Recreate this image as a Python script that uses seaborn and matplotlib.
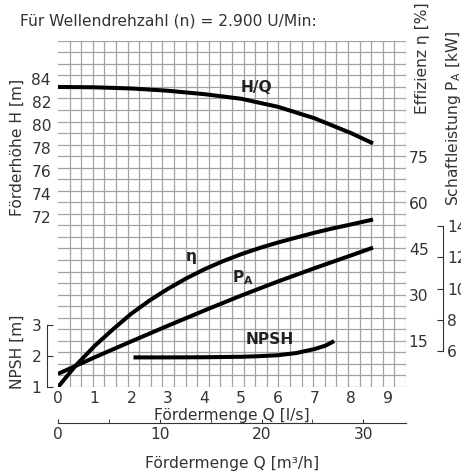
import numpy as np
import matplotlib
matplotlib.use("Agg")
import matplotlib.pyplot as plt
import seaborn as sns

# Kennlinien (Q in l/s)
q_hq = [0.0, 1.0, 2.0, 3.0, 4.0, 5.0, 6.0, 7.0, 7.5, 8.0, 8.6]
h_hq = [83.33, 83.3, 83.2, 83.0, 82.7, 82.3, 81.6, 80.6, 79.95, 79.3, 78.4]

q_eta = [0.0, 0.5, 1.0, 1.5, 2.0, 2.5, 3.0, 3.5, 4.0, 4.5, 5.0, 5.5, 6.0, 6.5, 7.0, 7.5, 8.0, 8.6]
eta = [0.0, 7.2, 13.4, 18.8, 23.9, 28.2, 32.0, 35.4, 38.4, 41.0, 43.3, 45.3, 47.1, 48.7, 50.3, 51.7, 53.0, 54.6]

q_pa = [0.0, 1.0, 2.0, 3.0, 4.0, 5.0, 6.0, 7.0, 8.0, 8.6]
pa = [4.54, 5.6, 6.62, 7.62, 8.6, 9.55, 10.45, 11.3, 12.12, 12.62]

q_npsh = [2.06, 3.0, 4.0, 5.0, 5.5, 6.0, 6.5, 7.0, 7.3, 7.54]
npsh = [1.95, 1.95, 1.955, 1.97, 1.99, 2.02, 2.09, 2.22, 2.33, 2.48]

# Achsenbeschriftungen
ticks_q = [0, 1, 2, 3, 4, 5, 6, 7, 8, 9]
ticks_h = [72, 74, 76, 78, 80, 82, 84]
ticks_eta = [15, 30, 45, 60, 75]
ticks_pa = [6, 8, 10, 12, 14]
ticks_npsh = [1, 2, 3]
ticks_m3h = [0, 10, 20, 30]

sns.set_style("white")
plt.rcParams["font.family"] = ["DejaVu Sans"]
fs = 11.2
txt = "#333333"

fig = plt.figure(figsize=(4.61, 4.73), dpi=100)
ax = fig.add_axes([58 / 461, 1 - 387 / 473, 348 / 461, 346.3 / 473])

# Skalen (Gitter 30 x 30 Kästchen)
Q_MAX = 9.5
H_LO, H_HI = 57.13, 87.37
ax.set_xlim(0, Q_MAX)
ax.set_ylim(H_LO, H_HI)
ax.set_xticks(np.linspace(0, Q_MAX, 31), minor=True)
ax.set_yticks(np.linspace(H_LO, H_HI, 31), minor=True)
ax.grid(which="minor", color="#a3a3a3", lw=0.9)
ax.grid(which="major", visible=False)
ax.set_xticks(ticks_q)
ax.set_yticks(ticks_h)
ax.tick_params(which="both", length=0, labelsize=fs, colors=txt)
ax.tick_params(axis="x", pad=3)
ax.tick_params(axis="y", pad=5)
for s in ax.spines.values():
    s.set_visible(False)

ax_eta = ax.twinx()
ax_eta.set_ylim(0, 112.9)
ax_pa = ax.twinx()
ax_pa.set_ylim(3.70, 25.86)
ax_np = ax.twinx()
ax_np.set_ylim(0.99, 12.22)
for a in (ax_eta, ax_pa, ax_np):
    for s in a.spines.values():
        s.set_visible(False)
    a.grid(False)

lw = 2.9
kw = dict(color="black", lw=lw, solid_capstyle="butt", solid_joinstyle="round")
sns.lineplot(x=q_hq, y=h_hq, ax=ax, **kw)
sns.lineplot(x=q_eta, y=eta, ax=ax_eta, **kw)
sns.lineplot(x=q_pa, y=pa, ax=ax_pa, **kw)
sns.lineplot(x=q_npsh, y=npsh, ax=ax_np, **kw)

# Effizienz-Achse rechts
ax_eta.set_yticks(ticks_eta)
ax_eta.tick_params(length=0, pad=2, labelsize=fs, colors=txt)

# Leistungs-Achse
ax_pa.spines["right"].set_visible(True)
ax_pa.spines["right"].set_position(("axes", (443 - 58) / 348))
ax_pa.spines["right"].set_bounds(6, 14)
ax_pa.spines["right"].set_color(txt)
ax_pa.set_yticks(ticks_pa)
ax_pa.tick_params(direction="in", length=4, pad=3, labelsize=fs, colors=txt)

# NPSH-Achse links
ax_np.yaxis.tick_left()
ax_np.spines["left"].set_visible(True)
ax_np.spines["left"].set_position(("axes", (47 - 58) / 348))
ax_np.spines["left"].set_bounds(1, 3)
ax_np.spines["left"].set_color(txt)
ax_np.set_yticks(ticks_npsh)
ax_np.tick_params(direction="in", length=4, pad=4, labelsize=fs, colors=txt)

# zweite Q-Achse in m³/h
sec = ax.secondary_xaxis((387 - 423) / 346.3, functions=(lambda q: q * 3.6, lambda m: m / 3.6))
sec.set_xticks(ticks_m3h)
sec.set_xticks([5, 15, 25], minor=True)
sec.spines["bottom"].set_color(txt)
sec.tick_params(which="both", direction="in", length=3, pad=3, labelsize=fs, colors=txt)

# Achsentitel
ax.text(0.5, (387 - 415) / 346.3, "Fördermenge Q [l/s]", transform=ax.transAxes,
        ha="center", va="center", fontsize=fs, color=txt)
ax.text(0.5, (387 - 463) / 346.3, "Fördermenge Q [m³/h]", transform=ax.transAxes,
        ha="center", va="center", fontsize=fs, color=txt)
ax.text((17 - 58) / 348, (387 - 147) / 346.3, "Förderhöhe H [m]", transform=ax.transAxes,
        ha="center", va="center", rotation=90, fontsize=fs, color=txt)
ax.text((17 - 58) / 348, (387 - 352) / 346.3, "NPSH [m]", transform=ax.transAxes,
        ha="center", va="center", rotation=90, fontsize=fs, color=txt)
ax.text((422 - 58) / 348, (387 - 58) / 346.3, "Effizienz η [%]", transform=ax.transAxes,
        ha="center", va="center", rotation=90, fontsize=fs, color=txt)
ax.text((453 - 58) / 348, (387 - 118) / 346.3, r"Schaftleistung P$_\mathregular{A}$ [kW]",
        transform=ax.transAxes, ha="center", va="center", rotation=90, fontsize=fs, color=txt)

# Kurvenbezeichnungen
ax.text(5.43, 83.3, "H/Q", ha="center", va="center", fontsize=fs, fontweight="bold", color="#222222")
ax_eta.text(3.64, 42.5, "η", ha="center", va="center", fontsize=fs, fontweight="bold", color="#222222")
ax_pa.text(5.05, 10.67, r"$\mathbf{P_A}$", ha="center", va="center", fontsize=fs, color="#222222")
ax_np.text(5.77, 2.54, "NPSH", ha="center", va="center", fontsize=fs, fontweight="bold", color="#222222")

fig.text(20 / 461, 1 - 21 / 473, "Für Wellendrehzahl (n) = 2.900 U/Min:", ha="left", va="center",
         fontsize=fs, color=txt)

fig.savefig("out.png", dpi=100)
